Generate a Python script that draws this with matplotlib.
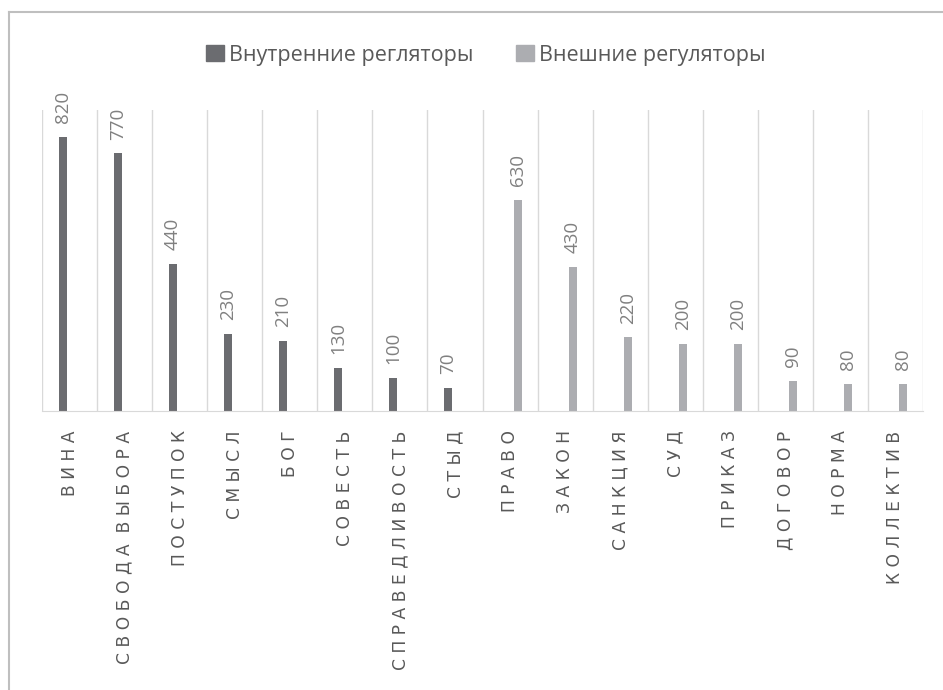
import matplotlib.pyplot as plt
from matplotlib.lines import Line2D
from matplotlib.patches import Patch
import numpy as np

categories = ["ВИНА", "СВОБОДА ВЫБОРА", "ПОСТУПОК", "СМЫСЛ", "БОГ", "СОВЕСТЬ",
              "СПРАВЕДЛИВОСТЬ", "СТЫД", "ПРАВО", "ЗАКОН", "САНКЦИЯ", "СУД",
              "ПРИКАЗ", "ДОГОВОР", "НОРМА", "КОЛЛЕКТИВ"]
internal = [820, 770, 440, 230, 210, 130, 100, 70, 0, 0, 0, 0, 0, 0, 0, 0]
external = [0, 0, 0, 0, 0, 0, 0, 0, 630, 430, 220, 200, 200, 90, 80, 80]
series_names = ["Внутренние регляторы", "Внешние регуляторы"]

dark = "#6b6c70"
light = "#acadb1"
grid_c = "#d9d9d9"
txt_c = "#808080"

plt.rcParams['font.family'] = ['Open Sans', 'DejaVu Sans']

fig = plt.figure(figsize=(9.43, 6.9), dpi=100)
ax = fig.add_axes([42/943, 1-411/690, (923-42)/943, (411-110)/690])

x = np.arange(len(categories))
w = 0.15
b1 = ax.bar(x - 0.12, internal, width=w, color=dark)
b2 = ax.bar(x + 0.14, external, width=w, color=light)

for bars, vals in [(b1, internal), (b2, external)]:
    for r, v in zip(bars, vals):
        if v == 0:
            continue
        ax.annotate(str(v), (r.get_x() + r.get_width()/2, v), xytext=(0, 10),
                    textcoords="offset points", rotation=90, ha="center",
                    va="bottom", color=txt_c, fontsize=13.5)

ax.set_xlim(-0.5, len(categories) - 0.5)
ax.set_ylim(0, 900)

# vertical gridlines between categories
for b in np.arange(-0.5, len(categories), 1.0):
    ax.axvline(b, color=grid_c, lw=1, zorder=0)

for s in ["top", "right", "left"]:
    ax.spines[s].set_visible(False)
ax.spines["bottom"].set_color(grid_c)
ax.set_yticks([])


def spread(name):
    return "  ".join(" ".join(word) for word in name.split())


ax.set_xticks(x)
ax.set_xticklabels([spread(c) for c in categories], rotation=90, va="top",
                   fontsize=12.3, color="#595959", family=["DejaVu Sans"])
ax.tick_params(axis="x", length=0, pad=14)

handles = [Patch(color=dark), Patch(color=light)]
fig.legend(handles, series_names, loc="center", ncol=2,
           bbox_to_anchor=(486/943, 1-55/690), frameon=False, fontsize=15.5,
           handlelength=0.8, handleheight=0.7, handletextpad=0.25,
           columnspacing=2.0, labelcolor="#595959")

# outer frame (top and left edges)
fig.add_artist(Line2D([9/943, 1], [1-12/690, 1-12/690], color="#bfbfbf", lw=1.5))
fig.add_artist(Line2D([9/943, 9/943], [0, 1-12/690], color="#bfbfbf", lw=1.5))

fig.savefig("out.png", dpi=100, facecolor="white")
